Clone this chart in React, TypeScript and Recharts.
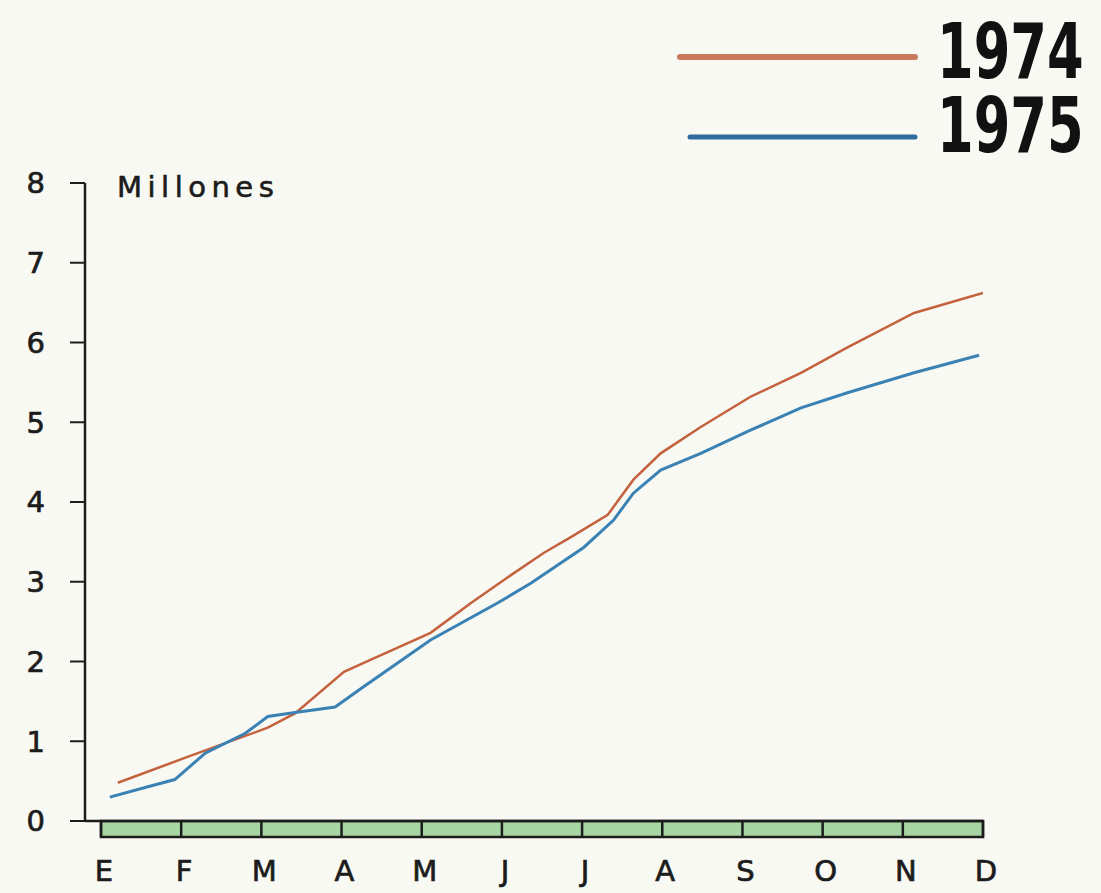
import React from 'react';
import { LineChart, Line, XAxis, YAxis, ReferenceArea } from 'recharts';

// month initials (Spanish)
const monthLabels = ['E', 'F', 'M', 'A', 'M', 'J', 'J', 'A', 'S', 'O', 'N', 'D'];
const monthTicks = [0, 1, 2, 3, 4, 5, 6, 7, 8, 9, 10, 11];
const yTicks = [0, 1, 2, 3, 4, 5, 6, 7, 8];

// position along the year (0 = E, 11 = D) and value in millions
const months1974 = [0.21, 1.07, 2.08, 2.42, 3.03, 3.36, 4.11, 4.61, 5.02, 5.52, 5.86, 6.32, 6.64, 6.98, 7.48, 8.1, 8.73, 9.31, 10.14, 11.0];
const values1974 = [0.48, 0.8, 1.17, 1.35, 1.87, 2.02, 2.36, 2.73, 3.02, 3.36, 3.56, 3.84, 4.28, 4.61, 4.94, 5.32, 5.62, 5.94, 6.37, 6.62];

const months1975 = [0.11, 0.55, 0.92, 1.3, 1.8, 2.08, 2.42, 2.92, 3.27, 4.11, 4.94, 5.36, 6.02, 6.39, 6.64, 6.98, 7.48, 8.1, 8.73, 9.31, 10.14, 10.95];
const values1975 = [0.3, 0.42, 0.52, 0.85, 1.1, 1.31, 1.36, 1.43, 1.68, 2.27, 2.73, 2.98, 3.43, 3.77, 4.11, 4.4, 4.61, 4.9, 5.18, 5.37, 5.62, 5.84];

const data1974 = months1974.map((m, i) => ({ m, v: values1974[i] }));
const data1975 = months1975.map((m, i) => ({ m, v: values1975[i] }));

const RED = '#c4623e';
const BLUE = '#3a82b4';
const INK = '#1c1c1c';
const tickFont = {
  fontFamily: 'DejaVu Sans, sans-serif',
  fontSize: 29,
  fill: INK,
  stroke: INK,
  strokeWidth: 0.7,
};
const bigFont = "'Liberation Sans Narrow', 'DejaVu Sans Condensed', sans-serif";

export default function App() {
  return (
    <div
      style={{
        position: 'absolute',
        left: 0,
        top: 0,
        width: 1101,
        height: 893,
        background: '#f8f9f3',
        overflow: 'hidden',
      }}
    >
      <LineChart width={1101} height={893} margin={{ top: 183, right: 118, left: 25, bottom: 12 }}>
        <XAxis
          type="number"
          dataKey="m"
          domain={[0, 11]}
          ticks={monthTicks}
          interval={0}
          tickFormatter={(i: number) => monthLabels[i]}
          padding={{ left: 16, right: 0 }}
          height={60}
          tickSize={16}
          tickMargin={23}
          axisLine={{ stroke: INK, strokeWidth: 2.5 }}
          tickLine={{ stroke: INK, strokeWidth: 2.5 }}
          tick={{ ...tickFont, dx: 3 }}
          allowDataOverflow
        />
        <YAxis
          type="number"
          domain={[0, 8]}
          ticks={yTicks}
          width={60}
          tickSize={15}
          tickMargin={25}
          axisLine={{ stroke: INK, strokeWidth: 2.5 }}
          tickLine={{ stroke: INK, strokeWidth: 2 }}
          tick={tickFont}
        />
        {/* green band under the month axis */}
        <ReferenceArea
          x1={0}
          x2={11}
          y1={-0.2}
          y2={0}
          ifOverflow="visible"
          fill="#a8d6a2"
          fillOpacity={1}
          stroke={INK}
          strokeWidth={2.5}
        />
        <Line
          data={data1974}
          dataKey="v"
          type="linear"
          stroke={RED}
          strokeWidth={2.5}
          dot={false}
          isAnimationActive={false}
        />
        <Line
          data={data1975}
          dataKey="v"
          type="linear"
          stroke={BLUE}
          strokeWidth={3}
          dot={false}
          isAnimationActive={false}
        />
      </LineChart>

      {/* unit label and legend */}
      <svg width={1101} height={893} style={{ position: 'absolute', left: 0, top: 0, pointerEvents: 'none' }}>
        <text
          x={117}
          y={197}
          fontFamily="DejaVu Sans, sans-serif"
          fontSize={29}
          letterSpacing={5.5}
          fill={INK}
          stroke={INK}
          strokeWidth={0.6}
        >
          Millones
        </text>
        <line x1={680} y1={57} x2={915} y2={57} stroke="#c97a5e" strokeWidth={6} strokeLinecap="round" />
        <line x1={690} y1={137} x2={915} y2={137} stroke="#2f6c9e" strokeWidth={5} strokeLinecap="round" />
        <text
          transform="translate(937,78) scale(0.77,1)"
          fontFamily={bigFont}
          fontWeight={700}
          fontSize={76}
          fill="#111"
        >
          1974
        </text>
        <text
          transform="translate(937,152) scale(0.77,1)"
          fontFamily={bigFont}
          fontWeight={700}
          fontSize={76}
          fill="#111"
        >
          1975
        </text>
      </svg>
    </div>
  );
}
